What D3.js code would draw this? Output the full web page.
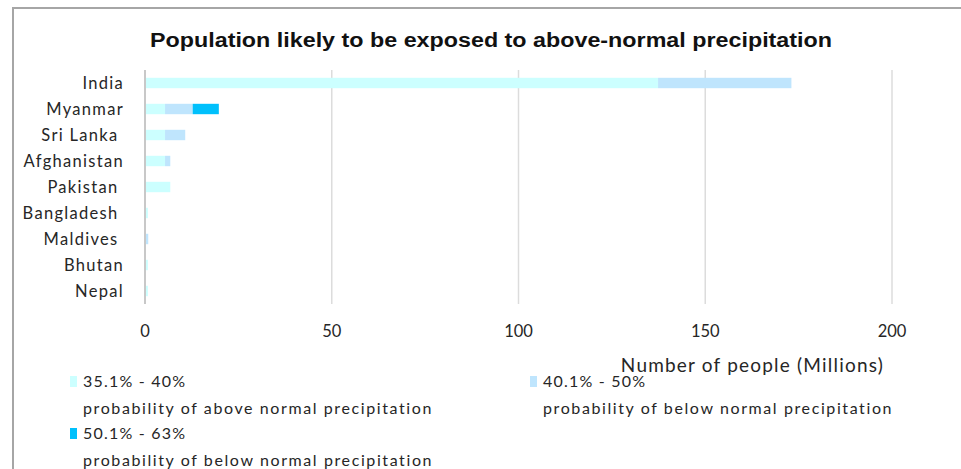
<!DOCTYPE html>
<html>
<head>
<meta charset="utf-8">
<script src="https://cdn.jsdelivr.net/npm/d3@7"></script>
<style>
  body { margin: 0; background: #fff; }
  svg text { white-space: pre; }
</style>
</head>
<body>
<div id="chart"></div>
<script>
const WIDTH = 961;
const HEIGHT = 469;
const MARGIN = { top: 70, right: 69, bottom: 165, left: 145 };

const countries = ["India", "Myanmar", "Sri Lanka ", "Afghanistan", "Pakistan ", "Bangladesh ", "Maldives ", "Bhutan", "Nepal"];
const above35to40 = [137.1, 5.1, 5.1, 5.1, 6.5, 0.5, 0, 0.5, 0.5];
const below40to50 = [35.7, 7.4, 5.4, 1.4, 0, 0, 0.6, 0, 0];
const below50to63 = [0, 7.0, 0, 0, 0, 0, 0, 0, 0];
const xTicks = [0, 50, 100, 150, 200];

const seriesKeys = ["a", "b", "c"];
const seriesColors = { a: "#ccffff", b: "#bfe5fd", c: "#00c0fc" };
const legendLabels = [
    ["35.1% - 40%", "probability of above normal precipitation"],
    ["40.1% - 50%", "probability of below normal precipitation"],
    ["50.1% - 63%", "probability of below normal precipitation"]
];

const rows = countries.map((name, i) => ({
    name,
    a: above35to40[i],
    b: below40to50[i],
    c: below50to63[i]
}));

const svg = d3.select("#chart")
    .append("svg")
    .attr("width", WIDTH)
    .attr("height", HEIGHT)
    .style("font-family", "Lato, 'Open Sans', sans-serif");

// frame
svg.append("path")
    .attr("d", `M13,${HEIGHT} L13,8 L${WIDTH},8`)
    .attr("fill", "none")
    .attr("stroke", "#a6a6a6")
    .attr("stroke-width", 2);

svg.append("text")
    .attr("x", 491)
    .attr("y", 47)
    .attr("text-anchor", "middle")
    .attr("font-family", "'Liberation Sans', Arial, sans-serif")
    .attr("font-weight", "bold")
    .attr("font-size", 20)
    .attr("textLength", 682)
    .attr("lengthAdjust", "spacingAndGlyphs")
    .attr("fill", "#111")
    .text("Population likely to be exposed to above-normal precipitation");

const x = d3.scaleLinear()
    .domain([0, 200])
    .range([MARGIN.left, WIDTH - MARGIN.right]);

const y = d3.scaleBand()
    .domain(countries)
    .range([MARGIN.top, HEIGHT - MARGIN.bottom])
    .paddingInner(0.6)
    .paddingOuter(0.3);

// grid
svg.append("g")
    .selectAll("line")
    .data(xTicks)
    .enter()
    .append("line")
    .attr("x1", d => x(d))
    .attr("x2", d => x(d))
    .attr("y1", MARGIN.top)
    .attr("y2", HEIGHT - MARGIN.bottom)
    .attr("stroke", d => d === 0 ? "#c8c8c8" : "#dcdcdc")
    .attr("stroke-width", d => d === 0 ? 2 : 1.5);

const stacked = d3.stack().keys(seriesKeys)(rows);

svg.append("g")
    .selectAll("g")
    .data(stacked)
    .enter()
    .append("g")
    .attr("fill", d => seriesColors[d.key])
    .selectAll("rect")
    .data(d => d)
    .enter()
    .append("rect")
    .attr("x", d => x(d[0]) + 1)
    .attr("y", d => y(d.data.name))
    .attr("width", d => Math.max(0, x(d[1]) - x(d[0])))
    .attr("height", y.bandwidth());

// category labels
svg.append("g")
    .selectAll("text")
    .data(countries)
    .enter()
    .append("text")
    .attr("x", 124)
    .attr("y", d => y(d) + y.bandwidth() / 2)
    .attr("dy", "0.35em")
    .attr("text-anchor", "end")
    .attr("font-size", 16.5)
    .attr("letter-spacing", 1.3)
    .attr("fill", "#262626")
    .text(d => d);

// tick labels
svg.append("g")
    .selectAll("text")
    .data(xTicks)
    .enter()
    .append("text")
    .attr("x", d => x(d))
    .attr("y", 337)
    .attr("text-anchor", "middle")
    .attr("font-size", 16.5)
    .attr("fill", "#262626")
    .text(d => d);

svg.append("text")
    .attr("x", 884)
    .attr("y", 372)
    .attr("text-anchor", "end")
    .attr("font-size", 19)
    .attr("letter-spacing", 1.2)
    .attr("fill", "#262626")
    .text("Number of people (Millions)");

// legend
const legendPos = [[70, 382], [530, 382], [70, 434]];
const legend = svg.append("g")
    .selectAll("g")
    .data(seriesKeys)
    .enter()
    .append("g")
    .attr("transform", (d, i) => `translate(${legendPos[i][0]},${legendPos[i][1]})`);

legend.append("rect")
    .attr("x", 0)
    .attr("y", -6)
    .attr("width", 7)
    .attr("height", 11)
    .attr("fill", d => seriesColors[d]);

legend.append("text")
    .attr("x", 13)
    .attr("y", 5)
    .attr("font-size", 16)
    .attr("letter-spacing", 1.2)
    .attr("fill", "#262626")
    .text((d, i) => legendLabels[i][0]);

legend.append("text")
    .attr("x", 13)
    .attr("y", 32)
    .attr("font-size", 16)
    .attr("letter-spacing", 1.6)
    .attr("fill", "#262626")
    .text((d, i) => legendLabels[i][1]);
</script>
</body>
</html>
